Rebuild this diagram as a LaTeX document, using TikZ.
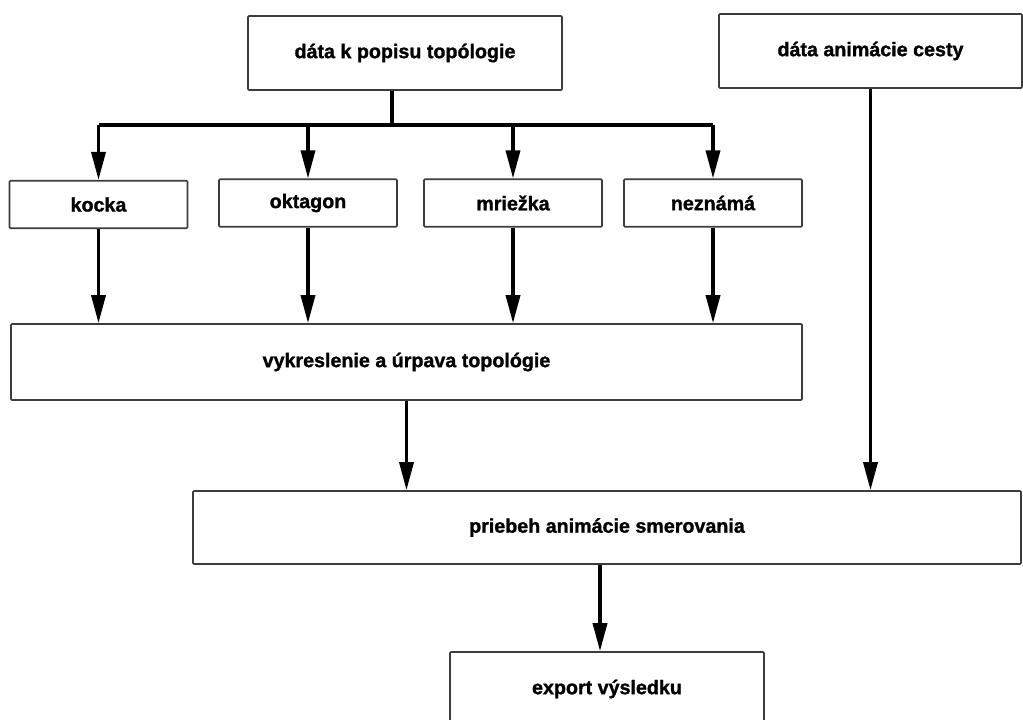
\documentclass[tikz,border=0pt]{standalone}
\usepackage{fontspec}
\setmainfont[BoldFeatures={FakeBold=1.3}]{Liberation Sans}
\usetikzlibrary{arrows.meta,positioning,calc}
\definecolor{BoxGray}{RGB}{60,60,60}

\begin{document}
\begin{tikzpicture}[
  fbox/.style={draw=BoxGray,line width=0.9pt,fill=white,rounded corners=0.6pt,
               minimum height=1.48cm,inner sep=0pt,align=center,
               font=\fontsize{11.2}{13}\selectfont\bfseries},
  sbox/.style={fbox,minimum width=3.56cm,minimum height=0.95cm},
  flow/.style={-{Triangle[length=16pt,width=8pt]},line width=2pt},
]
\fill[white] (0,0) rectangle (20.46,-14.4);
\useasboundingbox (0,0) rectangle (20.46,-14.4);
\node[fbox,minimum width=6.28cm] (topo) at (8.1,-1.06) {dáta k popisu topólogie};
\node[fbox,minimum width=6.06cm] (cesta) at (17.41,-1.02) {dáta animácie cesty};
\node[sbox] (kocka) at (1.97,-4.09) {kocka};
\node[sbox] (oktagon) at (6.16,-4.06) {oktagon};
\node[sbox] (mriezka) at (10.26,-4.06) {mriežka};
\node[sbox] (neznama) at (14.26,-4.06) {neznámá};
\node[fbox,minimum width=15.82cm,minimum height=1.52cm] (vykres) at (8.13,-7.24) {vykreslenie a úrpava topológie};
\node[fbox,minimum width=16.56cm,minimum height=1.46cm] (priebeh) at (12.14,-10.55) {priebeh animácie smerovania};
\node[fbox,minimum width=6.28cm] (export) at (12.14,-13.78) {export výsledku};
% rozdelenie podla typu topologie
\coordinate (bar) at (7.84,-2.5);
\draw[line width=2pt] (bar |- topo.south) -- (bar);
\draw[line width=2pt] (kocka.north |- bar) -- (neznama.north |- bar);
\draw[flow] (kocka.north |- bar) -- (kocka.north);
\draw[flow] (oktagon.north |- bar) -- (oktagon.north);
\draw[flow] (mriezka.north |- bar) -- (mriezka.north);
\draw[flow] (neznama.north |- bar) -- (neznama.north);
\draw[flow] (kocka.south) -- (kocka.south |- vykres.north);
\draw[flow] (oktagon.south) -- (oktagon.south |- vykres.north);
\draw[flow] (mriezka.south) -- (mriezka.south |- vykres.north);
\draw[flow] (neznama.south) -- (neznama.south |- vykres.north);
% animacia
\draw[flow] (vykres.south) -- (vykres.south |- priebeh.north);
\draw[flow] (cesta.south) -- (cesta.south |- priebeh.north);
\draw[flow] ([xshift=-0.14cm]priebeh.south) -- ([xshift=-0.14cm]export.north);
\end{tikzpicture}
\end{document}
